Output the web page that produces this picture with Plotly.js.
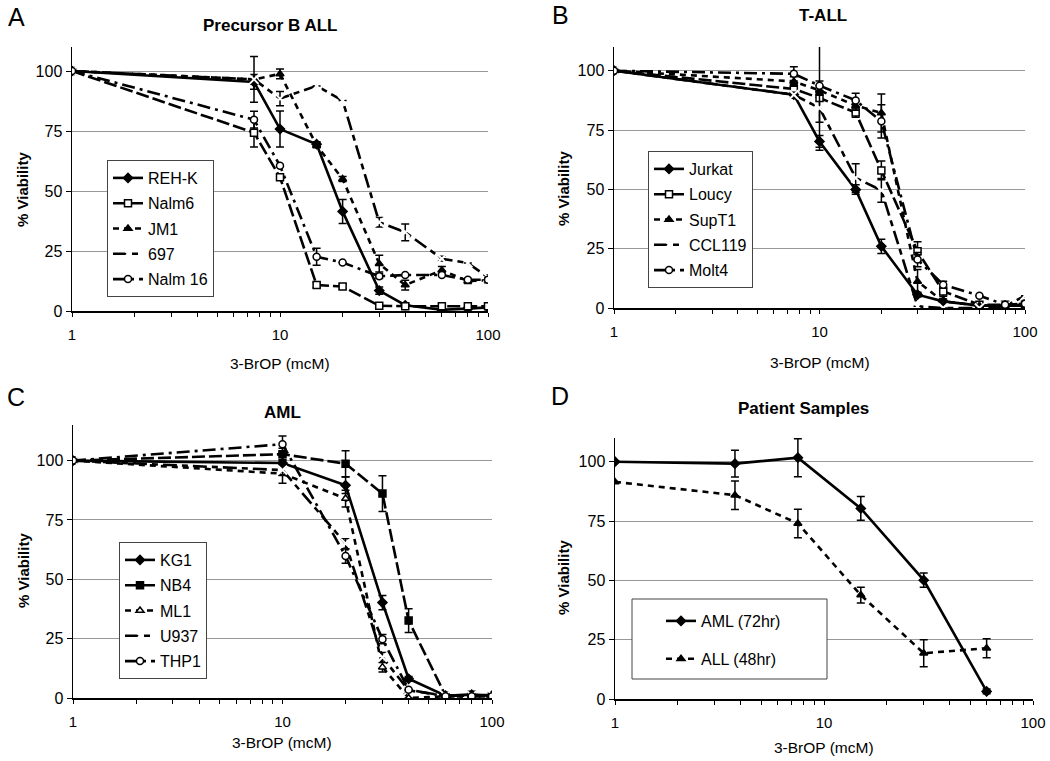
<!DOCTYPE html>
<html>
<head>
<meta charset="utf-8">
<script src="https://cdn.plot.ly/plotly-3.0.1.min.js"></script>
<style>
body { margin: 0; background: #fff; }
#chart { width: 1050px; height: 761px; }
</style>
</head>
<body>
<div id="chart"></div>
<script>
// 3-BrOP concentrations (mcM)
var concA = [1, 7.5, 10, 15, 20, 30, 40, 60, 80, 100];
var concB = [1, 7.5, 10, 15, 20, 30, 40, 60, 80, 100];
var concC = [1, 10, 20, 30, 40, 60, 80, 100];
var concD = [1, 3.75, 7.5, 15, 30, 60];

// A - Precursor B ALL
var rehk = [100, 95.4, 75.8, 69.5, 41.5, 8.5, 2.4, 0.5, 1, 1.5];
var rehkErr = [0, 3, 7.5, 1, 5, 1.5, 0.5, 0, 0, 0];
var nalm6 = [100, 74.3, 55.7, 10.8, 10.2, 2.2, 2, 2, 2, 2];
var nalm6Err = [0, 6, 1, 1, 1, 0, 0, 0, 0, 0];
var jm1 = [100, 96.5, 98.8, 69, 55, 19.7, 10.8, 17, 12.5, 12.8];
var jm1Err = [0, 2, 2, 1, 1, 3.5, 2, 1.5, 1, 1];
var c697 = [100, 96.5, 88.5, 93.8, 87.7, 37, 32.8, 21.8, 20, 14];
var c697Err = [0, 9.5, 3, 0, 0, 2, 3.5, 1, 0, 1];
var nalm16 = [100, 79.7, 60.5, 22.6, 20.2, 14.5, 15, 15, 13, 13];
var nalm16Err = [0, 3.5, 0, 3.5, 0, 1, 0, 0, 0, 0];

// B - T-ALL
var jurkat = [100, 89.9, 70.2, 49.9, 26, 5.6, 2.8, 1, 1, 1];
var jurkatErr = [0, 1.5, 2.5, 2, 3, 1, 0, 0, 0, 0];
var loucy = [100, 92.3, 88.5, 82.4, 58, 23.9, 7, 1.4, 1.4, 1.8];
var loucyErr = [0, 2, 22, 2, 4, 4, 2, 0, 0, 0];
var supt1 = [100, 95.5, 91.7, 85.3, 82.2, 11.2, 2.8, 1, 1, 1.4];
var supt1Err = [0, 2, 2, 2, 8, 5, 1, 0, 0, 0];
var ccl119 = [100, 89.9, 84.3, 54.8, 49.6, 0.7, 0, 0, 0.7, 5.2];
var ccl119Err = [0, 1, 6, 6, 5, 0, 0, 0, 0, 0];
var molt4 = [100, 98.7, 93.7, 87.5, 78.7, 20.4, 9.8, 5.2, 1.4, 1.8];
var molt4Err = [0, 3, 2, 3, 7, 3, 1.5, 0, 0, 0];

// C - AML
var kg1 = [100, 99, 89.6, 40.2, 8.1, 1, 1.4, 1];
var kg1Err = [0, 1.5, 3.5, 3, 1, 0, 0, 0];
var nb4 = [100, 102.7, 98.7, 86.1, 32.6, 1, 1.4, 1];
var nb4Err = [0, 2.5, 5.5, 7.5, 5, 0, 0.5, 0];
var ml1 = [100, 94.5, 84, 13, 0, 0.7, 0.7, 0.7];
var ml1Err = [0, 4, 3.5, 2, 0, 0, 0, 0];
var u937 = [100, 96, 65.1, 17.2, 3.2, 1, 1, 1.4];
var u937Err = [0, 2, 2, 2, 0, 0, 0, 0];
var thp1 = [100, 106.9, 59.8, 24.8, 3.5, 0.7, 0.7, 0.7];
var thp1Err = [0, 3.5, 3, 2, 0, 0, 0, 0];

// D - Patient samples
var aml72 = [100, 99.2, 101.7, 80.3, 50.1, 3.2];
var aml72Err = [0, 5.6, 8, 5, 3, 1];
var all48 = [91.5, 85.9, 74, 43.8, 19.3, 21.4];
var all48Err = [0, 6, 6, 3.3, 5.7, 4];

var xTickVals = [1,2,3,4,5,6,7,8,9,10,20,30,40,50,60,70,80,90,100];
var xTickText = ['1','','','','','','','','','10','','','','','','','','','100'];
var yTickVals = [0, 25, 50, 75, 100];

var W = 1050, H = 761;
function px(x) { return x / W; }
function py(y) { return 1 - y / H; }

var FONT = 'Liberation Sans, Arial, sans-serif';

var dashes = {
	solid: 'solid',
	long: '13px,4px',
	short: '6px,5px',
	longShort: '14px,5px,6px,5px',
	longDot: '13px,5px,3px,5px'
};

function series(name, x, y, err, ax, leg, dash, symbol, filled) {
	return {
		x: x, y: y, name: name,
		xaxis: 'x' + ax, yaxis: 'y' + ax,
		legend: leg, legendgroup: name,
		type: 'scatter', mode: 'lines+markers',
		line: {color: '#000', width: 2.6, dash: dash},
		marker: {
			symbol: symbol, size: symbol === 'x-thin-open' ? 9 : 7,
			color: filled ? '#000' : '#fff',
			line: {color: '#000', width: symbol === 'x-thin-open' ? 2 : 1.5}
		},
		error_y: {type: 'data', array: err, visible: true, color: '#000', thickness: 1.5, width: 4}
	};
}

var data = [
	series('REH-K', concA, rehk, rehkErr, '', 'legend', dashes.solid, 'diamond', true),
	series('Nalm6', concA, nalm6, nalm6Err, '', 'legend', dashes.long, 'square', false),
	series('JM1', concA, jm1, jm1Err, '', 'legend', dashes.short, 'triangle-up', true),
	series('697', concA, c697, c697Err, '', 'legend', dashes.longShort, 'x-thin-open', false),
	series('Nalm 16', concA, nalm16, nalm16Err, '', 'legend', dashes.longDot, 'circle', false),

	series('Jurkat', concB, jurkat, jurkatErr, '2', 'legend2', dashes.solid, 'diamond', true),
	series('Loucy', concB, loucy, loucyErr, '2', 'legend2', dashes.long, 'square', false),
	series('SupT1', concB, supt1, supt1Err, '2', 'legend2', dashes.short, 'triangle-up', true),
	series('CCL119', concB, ccl119, ccl119Err, '2', 'legend2', dashes.longShort, 'x-thin-open', false),
	series('Molt4', concB, molt4, molt4Err, '2', 'legend2', dashes.longDot, 'circle', false),

	series('KG1', concC, kg1, kg1Err, '3', 'legend3', dashes.solid, 'diamond', true),
	series('NB4', concC, nb4, nb4Err, '3', 'legend3', dashes.long, 'square', true),
	series('ML1', concC, ml1, ml1Err, '3', 'legend3', dashes.short, 'triangle-up', false),
	series('U937', concC, u937, u937Err, '3', 'legend3', dashes.longShort, 'x-thin-open', false),
	series('THP1', concC, thp1, thp1Err, '3', 'legend3', dashes.longDot, 'circle', false),

	series('AML (72hr)', concD, aml72, aml72Err, '4', 'legend4', dashes.solid, 'diamond', true),
	series('ALL (48hr)', concD, all48, all48Err, '4', 'legend4', dashes.short, 'triangle-up', true)
];

function xaxis(domain, anchor) {
	return {
		domain: domain, anchor: anchor, type: 'log', range: [0, 2],
		tickvals: xTickVals, ticktext: xTickText,
		ticks: 'outside', ticklen: 4, tickwidth: 1, tickcolor: '#000',
		ticklabelstandoff: 5,
		showline: true, linecolor: '#000', linewidth: 1.5,
		showgrid: false, zeroline: false,
		tickfont: {family: FONT, size: 15, color: '#000'}
	};
}
function yaxis(domain, anchor, top) {
	return {
		domain: domain, anchor: anchor, range: [0, top],
		tickvals: yTickVals,
		ticks: 'outside', ticklen: 5, tickwidth: 1, tickcolor: '#000',
		showline: true, linecolor: '#000', linewidth: 1.5,
		showgrid: true, gridcolor: '#999', gridwidth: 1, zeroline: false,
		tickfont: {family: FONT, size: 16, color: '#000'}
	};
}
function legendBox(x, y, gap, border) {
	return {
		x: px(x), y: py(y), xanchor: 'left', yanchor: 'top',
		bgcolor: border ? '#fff' : 'rgba(0,0,0,0)',
		bordercolor: '#444', borderwidth: border ? 1 : 0,
		font: {family: FONT, size: 16, color: '#000'},
		tracegroupgap: gap, traceorder: 'grouped'
	};
}

function label(text, x, y, size, bold, angle) {
	return {
		text: bold ? '<b>' + text + '</b>' : text,
		x: px(x), y: py(y), xref: 'paper', yref: 'paper',
		xanchor: 'center', yanchor: 'middle',
		showarrow: false, textangle: angle || 0,
		font: {family: FONT, size: size, color: '#000'}
	};
}

var annotations = [
	label('A', 16, 17, 25), label('B', 560, 15, 25), label('C', 16, 397, 25), label('D', 560, 396, 25),
	label('Precursor B ALL', 270, 26, 17, true), label('T-ALL', 823, 16, 17, true),
	label('AML', 282, 412, 17, true), label('Patient Samples', 803, 409, 17, true),
	label('% Viability', 23, 190, 15, true, -90), label('% Viability', 563, 189, 15, true, -90),
	label('% Viability', 23, 571, 15, true, -90), label('% Viability', 563, 578, 15, true, -90),
	label('3-BrOP (mcM)', 280, 363, 15.5), label('3-BrOP (mcM)', 820, 362, 15.5),
	label('3-BrOP (mcM)', 282, 742, 15.5), label('3-BrOP (mcM)', 824, 747, 15.5)
];

// frame of the patient-sample legend, which has wider padding than the others
var shapes = [{
	type: 'rect', xref: 'paper', yref: 'paper',
	x0: px(632), x1: px(827), y0: py(679), y1: py(599),
	line: {color: '#444', width: 1}, fillcolor: '#fff', layer: 'above'
}];

var layout = {
	width: W, height: H,
	margin: {l: 0, r: 0, t: 0, b: 0},
	paper_bgcolor: '#fff', plot_bgcolor: '#fff',
	font: {family: FONT, color: '#000'},
	showlegend: true,
	xaxis: xaxis([px(72), px(488)], 'y'),
	yaxis: yaxis([py(311), py(47)], 'x', 110),
	xaxis2: xaxis([px(614), px(1025)], 'y2'),
	yaxis2: yaxis([py(308), py(47)], 'x2', 110),
	xaxis3: xaxis([px(73), px(492)], 'y3'),
	yaxis3: yaxis([py(698), py(425)], 'x3', 115),
	xaxis4: xaxis([px(615), px(1033)], 'y4'),
	yaxis4: yaxis([py(699), py(438)], 'x4', 110),
	legend: legendBox(107, 160, 1.5, true),
	legend2: legendBox(648, 151, 1.5, true),
	legend3: legendBox(119, 542, 1.5, true),
	legend4: legendBox(661, 604, 14, false),
	shapes: shapes,
	annotations: annotations
};

Plotly.newPlot('chart', data, layout, {staticPlot: true});
</script>
</body>
</html>
